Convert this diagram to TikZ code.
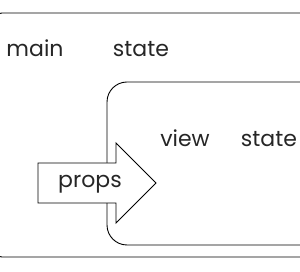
\documentclass[tikz,border=0pt]{standalone}
\usepackage{fontspec}
\setmainfont{Poppins}
\begin{document}
\begin{tikzpicture}[x=1pt,y=-1pt,
  box/.style={draw=black,line width=0.9pt,rounded corners=20pt},
  lbl/.style={font=\fontsize{22}{26}\selectfont\color{black!85},inner sep=0pt,anchor=base}]
\useasboundingbox (0,0) rectangle (300,272);
\clip (0,0) rectangle (300,272);
\draw[box,rounded corners=12pt] (-10,13) rectangle (312,257);
\draw[box] (107,82) rectangle (330,245);
\draw[line width=0.9pt,fill=white,line join=miter]
  (38,163) -- (116,163) -- (116,143) -- (156,183) -- (116,223) -- (116,203) -- (38,203) -- cycle;
\node[lbl] (main) at (35,57) {main};
\node[lbl] (mstate) at (141,57) {state};
\node[lbl] (view) at (185,147) {view};
\node[lbl] (vstate) at (269,147) {state};
\node[lbl] (props) at (90,188) {props};
\end{tikzpicture}
\end{document}
